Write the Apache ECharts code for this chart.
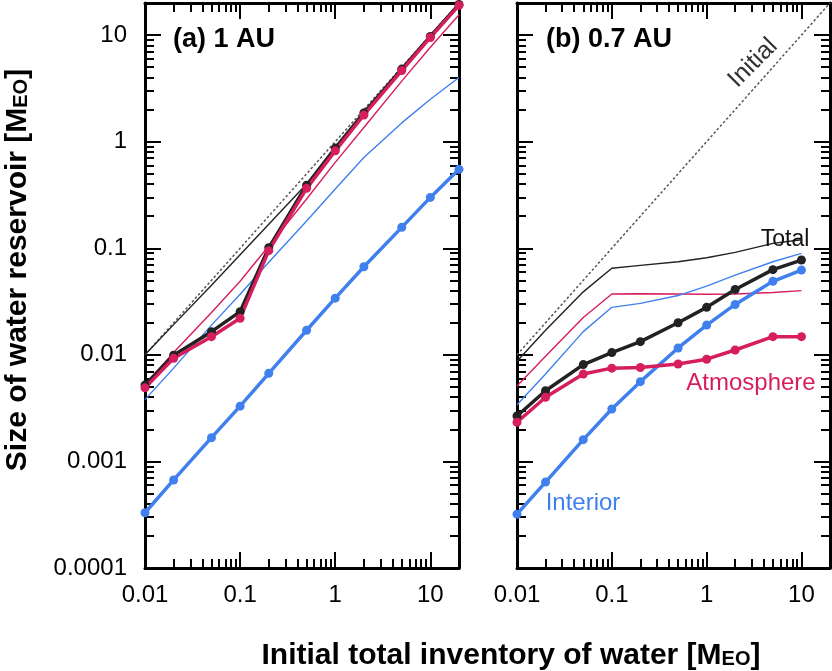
<!DOCTYPE html>
<html>
<head>
<meta charset="utf-8">
<script src="https://cdn.jsdelivr.net/npm/echarts@6/dist/echarts.min.js"></script>
<style>
  html, body { margin: 0; padding: 0; background: #fff; }
  #chart { width: 832px; height: 671px; }
</style>
</head>
<body>
<div id="chart"></div>
<script>
// initial total inventory of water [M_EO]
const xLeft = [0.01, 0.02, 0.05, 0.1, 0.2, 0.5, 1, 2, 5, 10, 20]
const xRight = [0.01, 0.02, 0.05, 0.1, 0.2, 0.5, 1, 2, 5, 10]

// (a) 1 AU
const totalA = [0.0052, 0.0099, 0.0165, 0.0254, 0.101, 0.39, 0.87, 1.86, 4.8, 9.7, 19.4]
const atmA = [0.0049, 0.0093, 0.0148, 0.022, 0.095, 0.365, 0.82, 1.78, 4.65, 9.5, 19.0]
const intA = [0.00033, 0.00067, 0.00167, 0.0033, 0.0067, 0.017, 0.034, 0.067, 0.157, 0.30, 0.55]
const totalThinA = [0.0100, 0.0192, 0.045, 0.087, 0.168, 0.40, 0.88, 1.87, 4.8, 9.7, 19.4]
const atmThinA = [0.0053, 0.0105, 0.025, 0.049, 0.105, 0.29, 0.64, 1.36, 3.7, 7.7, 15.5]
const intThinA = [0.0038, 0.0075, 0.019, 0.037, 0.074, 0.18, 0.36, 0.71, 1.5, 2.5, 4.0]

// (b) 0.7 AU
const totalB = [0.00267, 0.0046, 0.0081, 0.0105, 0.0133, 0.020, 0.0279, 0.041, 0.063, 0.0775]
const atmB = [0.00233, 0.0040, 0.0066, 0.0075, 0.0076, 0.0082, 0.0091, 0.0111, 0.0148, 0.0148]
const intB = [0.00032, 0.00064, 0.0016, 0.0031, 0.0056, 0.0116, 0.019, 0.0297, 0.049, 0.0624]
const totalThinB = [0.0087, 0.0170, 0.039, 0.065, 0.069, 0.0747, 0.0815, 0.0915, 0.111, 0.12]
const atmThinB = [0.0051, 0.0097, 0.0224, 0.0372, 0.0374, 0.0372, 0.037, 0.0372, 0.0385, 0.040]
const intThinB = [0.0034, 0.0066, 0.0165, 0.0279, 0.0304, 0.036, 0.0442, 0.056, 0.0747, 0.0896]

// y = x reference line
const initialX = [0.01, 20]

const xTickLabels = ['0.01', '0.1', '1', '10']
const yTickLabels = ['0.0001', '0.001', '0.01', '0.1', '1', '10']
const xRange = [0.01, 20]
const yRange = [0.0001, 20]

const FONT = '"Liberation Sans", Arial, Helvetica, sans-serif'
const BLACK = '#222222'
const RED = '#d61e5f'
const BLUE = '#3f80ee'

const chart = echarts.init(document.getElementById('chart'))

// tick axes live in log10 space, data axes are real log axes
const lg = (v) => Math.log10(v)
const majorOf = (labels) => labels.map(s => Math.round(lg(parseFloat(s))))
const minorOf = (range) => {
  let out = []
  for (let d = Math.floor(lg(range[0])); d < Math.ceil(lg(range[1])); d++) {
    for (let k = 2; k <= 9; k++) {
      let v = d + lg(k)
      if (v <= lg(range[1])) out.push(v)
    }
  }
  return out
}
const labelOf = (labels) => (v) => labels.find(s => Math.round(lg(parseFloat(s))) === Math.round(v)) || ''

const xMajor = majorOf(xTickLabels)
const yMajor = majorOf(yTickLabels)
const xMinor = minorOf(xRange)
const yMinor = minorOf(yRange)

const frame = { onZero: false, lineStyle: { color: '#000', width: 3 } }

// mode: 'major' | 'minor' | 'labels'
function tickAxis(gridIndex, position, range, ticks, mode, labels) {
  let isY = position == 'left' || position == 'right'
  return {
    type: 'value',
    gridIndex: gridIndex,
    position: position,
    min: lg(range[0]),
    max: lg(range[1]),
    axisLine: mode == 'major' ? frame : { show: false, onZero: false },
    axisTick: {
      show: mode != 'labels',
      inside: true,
      length: mode == 'major' ? 16 : 9,
      customValues: ticks,
      lineStyle: { color: '#000', width: 2 }
    },
    axisLabel: labels ? {
      show: true,
      customValues: ticks,
      formatter: labelOf(labels),
      fontFamily: FONT,
      fontSize: 24,
      color: '#000',
      margin: isY ? 18 : 15,
      hideOverlap: false
    } : { show: false },
    splitLine: { show: false }
  }
}

function dataAxis(gridIndex, range) {
  return {
    type: 'log',
    logBase: 10,
    gridIndex: gridIndex,
    min: range[0],
    max: range[1],
    show: false,
    axisLine: { onZero: false },
    splitLine: { show: false }
  }
}

let xAxis = []
let yAxis = []
let dataX = []
let dataY = []
for (let g = 0; g < 2; g++) {
  dataX.push(xAxis.length)
  xAxis.push(dataAxis(g, xRange))
  xAxis.push(tickAxis(g, 'bottom', xRange, xMajor, 'major', xTickLabels))
  xAxis.push(tickAxis(g, 'bottom', xRange, xMinor, 'minor'))
  xAxis.push(tickAxis(g, 'top', xRange, xMajor, 'major'))
  xAxis.push(tickAxis(g, 'top', xRange, xMinor, 'minor'))

  dataY.push(yAxis.length)
  yAxis.push(dataAxis(g, yRange))
  yAxis.push(tickAxis(g, 'left', yRange, yMajor, 'major'))
  yAxis.push(tickAxis(g, 'left', yRange, yMinor, 'minor'))
  yAxis.push(tickAxis(g, 'right', yRange, yMajor, 'major'))
  yAxis.push(tickAxis(g, 'right', yRange, yMinor, 'minor'))
}
// y tick labels sit in their own overlay grid so nothing nudges them
xAxis.push(dataAxis(2, xRange))
yAxis.push(tickAxis(2, 'left', yRange, yMajor, 'labels', yTickLabels))

function line(g, xs, ys, color, kind) {
  let s = {
    type: 'line',
    xAxisIndex: dataX[g],
    yAxisIndex: dataY[g],
    data: xs.map((x, i) => [x, ys[i]]),
    silent: true,
    animation: false,
    symbol: 'circle',
    symbolSize: 9,
    showSymbol: kind == 'thick',
    itemStyle: { color: color },
    lineStyle: { color: color, width: kind == 'thick' ? 3.5 : 1.4 }
  }
  if (kind == 'dotted') {
    s.showSymbol = false
    s.lineStyle = { color: '#555', width: 1.5, type: [2.5, 2.2] }
  }
  return s
}

let series = []
let panels = [
  { x: xLeft, total: totalA, atm: atmA, int: intA, totalThin: totalThinA, atmThin: atmThinA, intThin: intThinA },
  { x: xRight, total: totalB, atm: atmB, int: intB, totalThin: totalThinB, atmThin: atmThinB, intThin: intThinB }
]
panels.forEach((p, g) => {
  series.push(line(g, initialX, initialX, '#555', 'dotted'))
  series.push(line(g, p.x, p.totalThin, BLACK, 'thin'))
  series.push(line(g, p.x, p.atmThin, RED, 'thin'))
  series.push(line(g, p.x, p.intThin, BLUE, 'thin'))
  series.push(line(g, p.x, p.int, BLUE, 'thick'))
  series.push(line(g, p.x, p.total, BLACK, 'thick'))
  series.push(line(g, p.x, p.atm, RED, 'thick'))
})

function text(x, y, str, opts) {
  return {
    type: 'text',
    x: x,
    y: y,
    rotation: opts.rotation || 0,
    z: 100,
    style: {
      text: str,
      fill: opts.color || '#000',
      fontFamily: FONT,
      fontSize: opts.size || 22,
      fontWeight: opts.weight || 'normal',
      align: opts.align || 'left',
      verticalAlign: 'middle',
      rich: opts.rich
    }
  }
}

const unitRich = (size) => ({
  u: { fontFamily: FONT, fontSize: size, fontWeight: 'bold', verticalAlign: 'bottom', lineHeight: size },
  s: { fontFamily: FONT, fontSize: Math.round(size * 0.66), fontWeight: 'bold', verticalAlign: 'bottom', lineHeight: size, padding: [0, 0, 2, 0] }
})

const plot = { top: 3, height: 565, outerBoundsMode: 'none' }

const option = {
  backgroundColor: '#fff',
  animation: false,
  grid: [
    { ...plot, left: 145, width: 314 },
    { ...plot, left: 517, width: 313 },
    { ...plot, left: 145, width: 314 }
  ],
  xAxis: xAxis,
  yAxis: yAxis,
  series: series,
  graphic: [
    text(173, 40, '(a) 1 AU', { size: 27, weight: 'bold' }),
    text(546, 40, '(b) 0.7 AU', { size: 27, weight: 'bold' }),
    text(753, 63, 'Initial', { size: 25, color: '#333', align: 'center', rotation: Math.PI / 4 }),
    text(785, 240, 'Total', { size: 23, color: '#111', align: 'center' }),
    text(751, 383, 'Atmosphere', { size: 24, color: RED, align: 'center' }),
    text(583, 503, 'Interior', { size: 24, color: BLUE, align: 'center' }),
    text(511, 656, '{u|Initial total inventory of water [M}{s|EO}{u|]}', { align: 'center', rich: unitRich(30) }),
    text(18, 270, '{u|Size of water reservoir [M}{s|EO}{u|]}', { align: 'center', rotation: Math.PI / 2, rich: unitRich(30) })
  ]
}

chart.setOption(option)
</script>
</body>
</html>
